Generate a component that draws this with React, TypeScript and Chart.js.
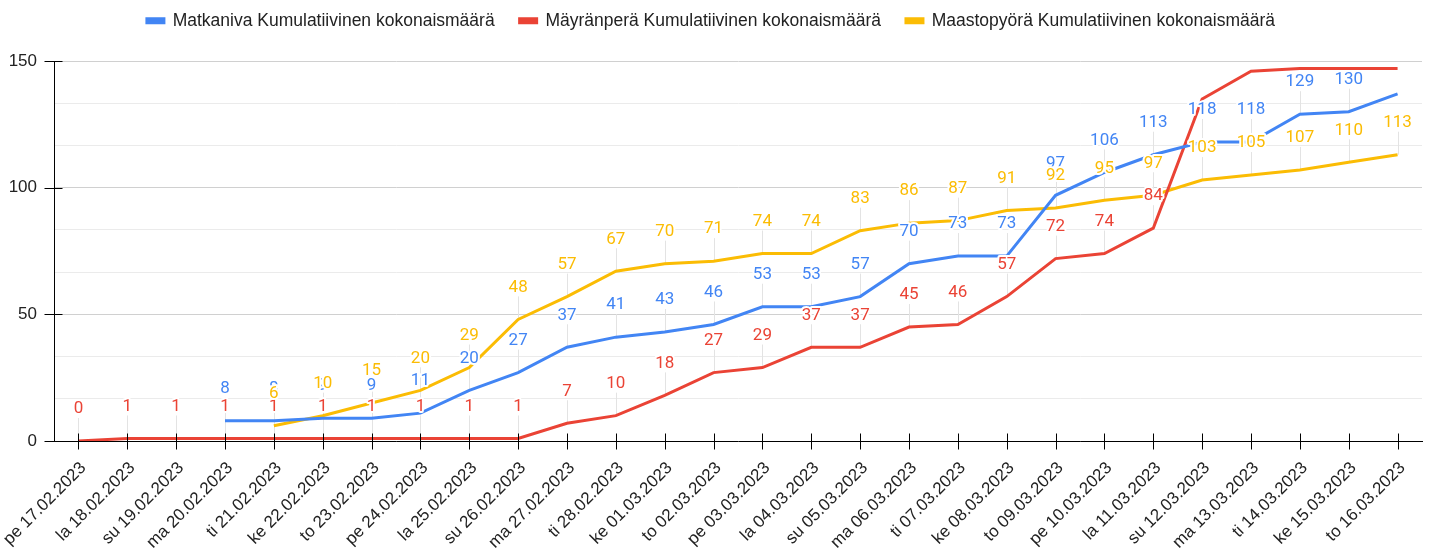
import React, { useEffect, useRef } from "react";
import { Chart, registerables } from "chart.js";

Chart.register(...registerables);

const categories = [
  "pe 17.02.2023", "la 18.02.2023", "su 19.02.2023", "ma 20.02.2023", "ti 21.02.2023",
  "ke 22.02.2023", "to 23.02.2023", "pe 24.02.2023", "la 25.02.2023", "su 26.02.2023",
  "ma 27.02.2023", "ti 28.02.2023", "ke 01.03.2023", "to 02.03.2023", "pe 03.03.2023",
  "la 04.03.2023", "su 05.03.2023", "ma 06.03.2023", "ti 07.03.2023", "ke 08.03.2023",
  "to 09.03.2023", "pe 10.03.2023", "la 11.03.2023", "su 12.03.2023", "ma 13.03.2023",
  "ti 14.03.2023", "ke 15.03.2023", "to 16.03.2023",
];

const matkaniva = [null, null, null, 8, 8, 9, 9, 11, 20, 27, 37, 41, 43, 46, 53, 53, 57, 70, 73, 73, 97, 106, 113, 118, 118, 129, 130, 137];
const mayranpera = [0, 1, 1, 1, 1, 1, 1, 1, 1, 1, 7, 10, 18, 27, 29, 37, 37, 45, 46, 57, 72, 74, 84, 135, 146, 147, 147, 147];
const maastopyora = [null, null, null, null, 6, 10, 15, 20, 29, 48, 57, 67, 70, 71, 74, 74, 83, 86, 87, 91, 92, 95, 97, 103, 105, 107, 110, 113];

// indices whose data labels are not shown in the original
const matkanivaHiddenLabels = [27];
const mayranperaHiddenLabels = [23, 24, 25, 26, 27];
const maastopyoraHiddenLabels: number[] = [];

const seriesNames = [
  "Matkaniva Kumulatiivinen kokonaismäärä",
  "Mäyränperä Kumulatiivinen kokonaismäärä",
  "Maastopyörä Kumulatiivinen kokonaismäärä",
];
const colors = ["#4285F4", "#EA4335", "#FBBC04"];
const hiddenSets = [matkanivaHiddenLabels, mayranperaHiddenLabels, maastopyoraHiddenLabels];

const yMajor = [0, 50, 100, 150];
const LABEL_OFFSET = 32;

const isMajor = (v: number) => Math.abs(v - Math.round(v / 50) * 50) < 1e-6;

const labelPlugin = {
  id: "dataLabelsCustom",
  afterInit(chart: any) {
    const lg = chart.legend;
    if (lg && !lg.__patched) {
      const orig = lg.fit.bind(lg);
      lg.fit = function () {
        orig();
        this.height = 74;
      };
      lg.__patched = true;
    }
  },
  beforeDatasetsDraw(chart: any) {
    const ctx = chart.ctx;
    ctx.save();
    ctx.strokeStyle = "#e3e3e3";
    ctx.lineWidth = 1;
    chart.data.datasets.forEach((ds: any, di: number) => {
      const meta = chart.getDatasetMeta(di);
      meta.data.forEach((pt: any, i: number) => {
        if (ds.data[i] == null || hiddenSets[di].includes(i)) return;
        ctx.beginPath();
        ctx.moveTo(Math.round(pt.x) + 0.5, pt.y - LABEL_OFFSET + 9);
        ctx.lineTo(Math.round(pt.x) + 0.5, pt.y);
        ctx.stroke();
      });
    });
    ctx.restore();
  },
  afterDatasetsDraw(chart: any) {
    const ctx = chart.ctx;
    ctx.save();
    ctx.font = "17px Roboto";
    ctx.textAlign = "center";
    ctx.textBaseline = "middle";
    ctx.lineJoin = "round";
    chart.data.datasets.forEach((ds: any, di: number) => {
      const meta = chart.getDatasetMeta(di);
      meta.data.forEach((pt: any, i: number) => {
        const v = ds.data[i];
        if (v == null || hiddenSets[di].includes(i)) return;
        const y = pt.y - LABEL_OFFSET;
        ctx.strokeStyle = "#ffffff";
        ctx.lineWidth = 4;
        ctx.strokeText(String(v), pt.x, y);
        ctx.fillStyle = colors[di];
        ctx.fillText(String(v), pt.x, y);
      });
    });
    ctx.restore();
  },
  afterDraw(chart: any) {
    const ctx = chart.ctx;
    const xs = chart.scales.x;
    const ys = chart.scales.y;
    ctx.save();
    ctx.strokeStyle = "#000";
    ctx.lineWidth = 1;
    const y0 = Math.round(ys.getPixelForValue(0)) + 0.5;
    categories.forEach((_, i) => {
      const x = Math.round(xs.getPixelForValue(i)) + 0.5;
      ctx.beginPath();
      ctx.moveTo(x, y0 - 8);
      ctx.lineTo(x, y0 + 8);
      ctx.stroke();
    });
    const xl = Math.round(chart.chartArea.left) + 0.5;
    yMajor.forEach((v) => {
      const y = Math.round(ys.getPixelForValue(v)) + 0.5;
      ctx.beginPath();
      ctx.moveTo(xl - 10, y);
      ctx.lineTo(xl + 8, y);
      ctx.stroke();
    });
    ctx.restore();
  },
};

export default function App() {
  const ref = useRef<HTMLCanvasElement>(null);
  useEffect(() => {
    document.body.style.margin = "0";
    const chart = new Chart(ref.current!, {
      type: "line",
      data: {
        labels: categories,
        datasets: [
          { label: seriesNames[0], data: matkaniva, borderColor: colors[0], backgroundColor: colors[0] },
          { label: seriesNames[1], data: mayranpera, borderColor: colors[1], backgroundColor: colors[1] },
          { label: seriesNames[2], data: maastopyora, borderColor: colors[2], backgroundColor: colors[2] },
        ].map((d) => ({ ...d, borderWidth: 3, pointRadius: 0, tension: 0, fill: false })) as any,
      },
      options: {
        animation: false,
        responsive: false,
        layout: { padding: { top: -13, right: 9, left: 0, bottom: 0 } },
        plugins: {
          legend: {
            position: "top",
            labels: {
              boxWidth: 17,
              boxHeight: 4,
              padding: 25,
              color: "#222",
              font: { family: "Liberation Sans", size: 17.5 },
            },
          },
          tooltip: { enabled: false },
        },
        scales: {
          x: {
            offset: true,
            grid: { display: false },
            border: { color: "#000", width: 1 },
            afterFit: (s: any) => {
              s.height = 112;
              s.paddingLeft = 0;
              s.paddingRight = 0;
            },
            ticks: {
              autoSkip: false,
              maxRotation: 45,
              minRotation: 45,
              padding: 9,
              labelOffset: 5,
              color: "#222",
              font: { family: "Liberation Sans", size: 17 },
            },
          },
          y: {
            min: 0,
            max: 150,
            afterFit: (s: any) => {
              s.width = 54;
              s.paddingTop = 0;
              s.paddingBottom = 0;
            },
            ticks: {
              stepSize: 50 / 3,
              padding: 17,
              color: "#222",
              font: { family: "Liberation Sans", size: 17 },
              callback: (v: any) => (isMajor(Number(v)) ? String(Math.round(Number(v))) : ""),
            },
            grid: {
              drawTicks: false,
              color: (c: any) => (isMajor(c.tick?.value ?? 0) ? "#d0d0d0" : "#ebebeb"),
              lineWidth: 1,
            },
            border: { color: "#000", width: 1 },
          },
        },
      },
      plugins: [labelPlugin],
    });
    return () => chart.destroy();
  }, []);
  return <canvas ref={ref} width={1431} height={553} style={{ display: "block" }} />;
}
